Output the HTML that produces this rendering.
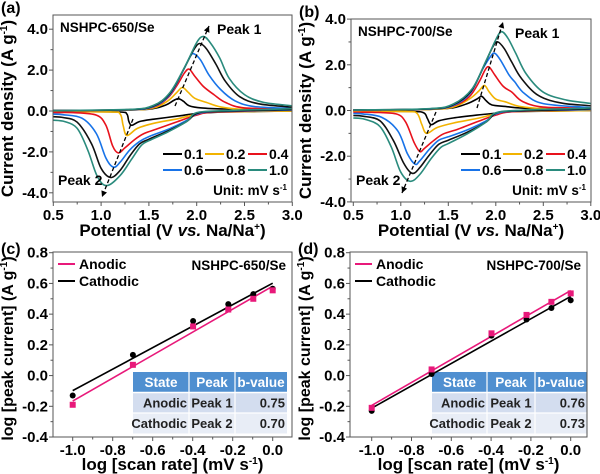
<!DOCTYPE html>
<html><head><meta charset="utf-8">
<style>
html,body{margin:0;padding:0;background:#fff;}
svg{display:block;font-family:"Liberation Sans",Arial,sans-serif;font-weight:bold;}
</style></head>
<body>
<svg id="fig" width="600" height="474" viewBox="0 0 600 474" xmlns="http://www.w3.org/2000/svg"></svg>
<script>
// ---------- CV data, panel (a) NSHPC-650/Se : [V, I] ----------
const a01up=[[0.5,0.02],[1.3,0.05],[1.55,0.12],[1.68,0.3],[1.76,0.52],[1.81,0.6],[1.86,0.48],[1.92,0.26],[2.05,0.15],[2.3,0.1],[3.0,0.05]];
const a01dn=[[3.0,0.0],[2.3,-0.05],[2.0,-0.12],[1.8,-0.25],[1.55,-0.4],[1.4,-0.52],[1.32,-0.7],[1.29,-0.5],[1.27,-0.15],[1.2,-0.05],[0.8,-0.03],[0.5,-0.03]];
const a02up=[[0.5,0.02],[1.3,0.05],[1.55,0.15],[1.7,0.5],[1.79,0.9],[1.85,1.15],[1.91,0.92],[1.98,0.62],[2.1,0.42],[2.25,0.2],[2.5,0.08],[3.0,0.05]];
const a02dn=[[3.0,0.0],[2.2,-0.05],[2.0,-0.15],[1.8,-0.38],[1.55,-0.6],[1.38,-0.85],[1.27,-1.2],[1.23,-0.7],[1.2,-0.15],[1.1,-0.05],[0.5,-0.03]];
const a04up=[[0.5,0.02],[1.3,0.06],[1.55,0.2],[1.7,0.65],[1.8,1.3],[1.87,1.85],[1.92,2.05],[1.98,1.7],[2.07,1.2],[2.18,0.8],[2.3,0.42],[2.5,0.15],[3.0,0.1]];
const a04dn=[[3.0,0.05],[2.2,-0.05],[2.0,-0.2],[1.8,-0.52],[1.6,-0.85],[1.45,-1.1],[1.35,-1.4],[1.25,-1.8],[1.18,-2.05],[1.12,-1.7],[1.05,-0.7],[0.95,-0.2],[0.7,-0.08],[0.5,-0.08]];
const a06up=[[0.5,0.02],[1.3,0.06],[1.55,0.22],[1.72,0.8],[1.85,1.9],[1.93,2.65],[1.97,2.8],[2.04,2.5],[2.13,1.75],[2.25,1.05],[2.4,0.5],[2.6,0.22],[3.0,0.12]];
const a06dn=[[3.0,0.05],[2.2,-0.03],[2.0,-0.15],[1.9,-0.45],[1.7,-0.9],[1.5,-1.25],[1.4,-1.5],[1.3,-1.9],[1.2,-2.5],[1.13,-2.75],[1.05,-2.3],[0.95,-1.1],[0.8,-0.35],[0.6,-0.18],[0.5,-0.15]];
const a08up=[[0.5,0.02],[1.3,0.07],[1.55,0.25],[1.72,0.85],[1.87,2.1],[1.97,3.0],[2.03,3.3],[2.1,3.05],[2.2,2.3],[2.3,1.45],[2.45,0.7],[2.65,0.35],[3.0,0.18]];
const a08dn=[[3.0,0.08],[2.2,-0.02],[2.0,-0.12],[1.9,-0.5],[1.7,-0.98],[1.5,-1.38],[1.4,-1.62],[1.3,-2.2],[1.2,-2.9],[1.1,-3.25],[1.0,-2.8],[0.9,-1.6],[0.75,-0.55],[0.6,-0.32],[0.5,-0.28]];
const a10up=[[0.5,0.02],[1.3,0.08],[1.55,0.28],[1.72,0.9],[1.88,2.2],[2.0,3.35],[2.07,3.65],[2.14,3.35],[2.24,2.6],[2.34,1.6],[2.5,0.8],[2.7,0.42],[3.0,0.25]];
const a10dn=[[3.0,0.12],[2.3,0.02],[2.0,-0.08],[1.9,-0.5],[1.7,-1.02],[1.5,-1.45],[1.42,-1.68],[1.32,-2.35],[1.2,-3.15],[1.06,-3.65],[0.96,-3.2],[0.86,-1.9],[0.75,-0.85],[0.62,-0.52],[0.5,-0.45]];
// ---------- CV data, panel (b) NSHPC-700/Se ----------
const b01up=[[0.5,0.02],[1.3,0.05],[1.55,0.12],[1.7,0.3],[1.8,0.5],[1.85,0.62],[1.9,0.42],[1.96,0.24],[2.1,0.18],[2.3,0.1],[3.0,0.05]];
const b01dn=[[3.0,0.0],[2.2,-0.05],[2.0,-0.12],[1.8,-0.2],[1.55,-0.33],[1.4,-0.45],[1.32,-0.62],[1.28,-0.35],[1.24,-0.1],[1.1,-0.04],[0.5,-0.03]];
const b02up=[[0.5,0.02],[1.3,0.05],[1.55,0.15],[1.72,0.5],[1.82,0.85],[1.88,1.1],[1.93,0.82],[2.0,0.5],[2.1,0.38],[2.25,0.18],[2.5,0.08],[3.0,0.05]];
const b02dn=[[3.0,0.0],[2.2,-0.05],[2.0,-0.15],[1.8,-0.35],[1.55,-0.55],[1.38,-0.75],[1.27,-1.0],[1.22,-0.6],[1.17,-0.12],[1.05,-0.05],[0.5,-0.03]];
const b04up=[[0.5,0.02],[1.3,0.06],[1.55,0.2],[1.72,0.6],[1.83,1.3],[1.89,1.8],[1.93,1.9],[1.99,1.55],[2.08,1.05],[2.17,0.8],[2.28,0.4],[2.5,0.15],[3.0,0.1]];
const b04dn=[[3.0,0.05],[2.2,-0.05],[2.0,-0.2],[1.8,-0.5],[1.6,-0.82],[1.45,-1.02],[1.35,-1.3],[1.25,-1.65],[1.2,-1.8],[1.14,-1.4],[1.05,-0.5],[0.95,-0.15],[0.7,-0.08],[0.5,-0.08]];
const b06up=[[0.5,0.02],[1.3,0.06],[1.55,0.22],[1.73,0.75],[1.86,1.8],[1.95,2.4],[1.99,2.5],[2.05,2.2],[2.14,1.55],[2.2,1.25],[2.3,0.75],[2.5,0.3],[3.0,0.12]];
const b06dn=[[3.0,0.05],[2.2,-0.03],[2.0,-0.15],[1.9,-0.45],[1.7,-0.85],[1.5,-1.15],[1.4,-1.3],[1.3,-1.7],[1.2,-2.2],[1.15,-2.35],[1.07,-1.9],[0.97,-0.9],[0.8,-0.3],[0.6,-0.15],[0.5,-0.13]];
const b08up=[[0.5,0.02],[1.3,0.07],[1.55,0.25],[1.74,0.85],[1.88,2.0],[1.97,2.8],[2.02,3.0],[2.09,2.7],[2.17,2.1],[2.27,1.4],[2.45,0.65],[2.7,0.32],[3.0,0.2]];
const b08dn=[[3.0,0.08],[2.2,-0.02],[2.0,-0.12],[1.9,-0.5],[1.7,-0.95],[1.5,-1.3],[1.4,-1.48],[1.3,-1.95],[1.2,-2.5],[1.12,-2.75],[1.03,-2.3],[0.92,-1.3],[0.78,-0.45],[0.6,-0.25],[0.5,-0.22]];
const b10up=[[0.5,0.02],[1.3,0.08],[1.55,0.28],[1.75,0.95],[1.9,2.2],[2.0,3.1],[2.06,3.45],[2.13,3.15],[2.21,2.5],[2.32,1.6],[2.5,0.8],[2.75,0.45],[3.0,0.3]];
const b10dn=[[3.0,0.12],[2.3,0.02],[2.0,-0.1],[1.9,-0.5],[1.7,-1.02],[1.5,-1.45],[1.42,-1.62],[1.32,-2.1],[1.2,-2.8],[1.1,-3.1],[1.0,-2.7],[0.9,-1.6],[0.78,-0.7],[0.62,-0.38],[0.5,-0.33]];
const rateLabels=['0.1','0.2','0.4','0.6','0.8','1.0'];
const rateColors=['#000000','#f2b300','#e8121c','#1873e8','#111111','#2a8b7d'];
const cvA=[[a01up,a01dn],[a02up,a02dn],[a04up,a04dn],[a06up,a06dn],[a08up,a08dn],[a10up,a10dn]];
const cvB=[[b01up,b01dn],[b02up,b02dn],[b04up,b04dn],[b06up,b06dn],[b08up,b08dn],[b10up,b10dn]];
// ---------- log-log data ----------
const logRate=[-1.0,-0.699,-0.398,-0.222,-0.097,0.0];
const cAnodic=[-0.19,0.07,0.32,0.43,0.50,0.555];
const cCathodic=[-0.13,0.135,0.355,0.465,0.53,0.565];
const dAnodic=[-0.21,0.04,0.275,0.395,0.48,0.535];
const dCathodic=[-0.23,0.01,0.26,0.365,0.44,0.49];
const cvXTicks=[0.5,1.0,1.5,2.0,2.5,3.0];
const cvYTicks=[-4,-2,0,2,4];
const lgXTicks=[-1.0,-0.8,-0.6,-0.4,-0.2,0.0];
const lgYTicks=[-0.4,-0.2,0.0,0.2,0.4,0.6,0.8];
const tableC=[['Anodic','Peak 1','0.75'],['Cathodic','Peak 2','0.70']];
const tableD=[['Anodic','Peak 1','0.76'],['Cathodic','Peak 2','0.73']];

const NS='http://www.w3.org/2000/svg';
const svg=document.getElementById('fig');
function el(tag,attrs,parent,text){const e=document.createElementNS(NS,tag);for(const k in attrs)e.setAttribute(k,attrs[k]);if(text!==undefined)e.textContent=text;(parent||svg).appendChild(e);return e;}
function smooth(pts){let d='M'+pts[0][0].toFixed(1)+','+pts[0][1].toFixed(1);for(let i=0;i<pts.length-1;i++){const p0=pts[Math.max(0,i-1)],p1=pts[i],p2=pts[i+1],p3=pts[Math.min(pts.length-1,i+2)];const c1=[p1[0]+(p2[0]-p0[0])/6,p1[1]+(p2[1]-p0[1])/6],c2=[p2[0]-(p3[0]-p1[0])/6,p2[1]-(p3[1]-p1[1])/6];d+=' C'+c1[0].toFixed(1)+','+c1[1].toFixed(1)+' '+c2[0].toFixed(1)+','+c2[1].toFixed(1)+' '+p2[0].toFixed(1)+','+p2[1].toFixed(1);}return d;}

function axes(g,box,xs,ys,xt,yt,xfmt,yfmt,xMinor,yMinor){
  el('rect',{x:box.l,y:box.t,width:box.r-box.l,height:box.b-box.t,fill:'none',stroke:'#555','stroke-width':1},g);
  xt.forEach(v=>{const x=xs(v);el('line',{x1:x,y1:box.b,x2:x,y2:box.b+4,stroke:'#555'},g);
    const t=el('text',{x:x,y:box.b+18,'text-anchor':'middle','font-size':15},g,xfmt(v));});
  xMinor.forEach(v=>{const x=xs(v);el('line',{x1:x,y1:box.b,x2:x,y2:box.b+2.5,stroke:'#555'},g);});
  yt.forEach(v=>{const y=ys(v);el('line',{x1:box.l-4,y1:y,x2:box.l,y2:y,stroke:'#555'},g);
    const t=el('text',{x:box.l-5,y:y+5,'text-anchor':'end','font-size':15},g,yfmt(v));});
  yMinor.forEach(v=>{const y=ys(v);el('line',{x1:box.l-2.5,y1:y,x2:box.l,y2:y,stroke:'#555'},g);});
}

function cvPanel(name,label,sample,box,xs,ys,data,arrows,clipId){
  const g=el('g',{});
  const lbl=el('text',{x:box.l-52,y:box.t-2,'font-size':16},g,label);
  const cp=el('clipPath',{id:clipId},g);el('rect',{x:box.l,y:box.t,width:box.r-box.l,height:box.b-box.t},cp);
  const cg=el('g',{'clip-path':'url(#'+clipId+')'},g);
  data.forEach((c,i)=>{const pts=c[0].concat(c[1]).map(p=>[xs(p[0]),ys(p[1])]);
    const p=el('path',{d:smooth(pts),fill:'none',stroke:rateColors[i],'stroke-width':1.6},cg);
    });
  arrows.forEach(a=>{el('line',{x1:a[0],y1:a[1],x2:a[2],y2:a[3],stroke:'#000','stroke-width':1.3,'stroke-dasharray':'4,2.5'},g);
    const ang=Math.atan2(a[3]-a[1],a[2]-a[0]),L=6,W=3;const bx=a[2]-L*Math.cos(ang),by=a[3]-L*Math.sin(ang);
    el('polygon',{points:a[2]+','+a[3]+' '+(bx+W*Math.sin(ang))+','+(by-W*Math.cos(ang))+' '+(bx-W*Math.sin(ang))+','+(by+W*Math.cos(ang)),fill:'#000'},g);});
  axes(g,box,xs,ys,cvXTicks,cvYTicks,v=>v.toFixed(1),v=>v.toFixed(1),[0.75,1.25,1.75,2.25,2.75],[-3,-1,1,3]);
  const s=el('text',{x:box.l+7,y:box.t+17,'font-size':13.5},g,sample);
  const p1=el('text',{x:box.l+164,y:box.t+19,'font-size':14},g,'Peak 1');
  const p2=el('text',{x:box.l+5,y:box.b-17,'font-size':14},g,'Peak 2');
  const lg=el('g',{},g);
  const colX=[110,152,195],rowY=[box.b-48,box.b-32];
  rateLabels.forEach((r,i)=>{const x=box.l+colX[i%3],y=rowY[Math.floor(i/3)];
    const e=el('g',{},lg);
    el('line',{x1:x,y1:y,x2:x+19,y2:y,stroke:rateColors[i],'stroke-width':2},e);el('text',{x:x+21,y:y+5,'font-size':14},e,r);});
  const u=el('text',{x:box.r-5,y:box.b-7,'font-size':13.5,'text-anchor':'end'},g);
  u.appendChild(document.createTextNode('Unit: mV s'));el('tspan',{'font-size':8,dy:-5},u,'-1');
  const yt=el('text',{transform:'translate('+(box.l-40)+','+((box.t+box.b)/2)+') rotate(-90)','text-anchor':'middle','font-size':17},g);
  
  yt.appendChild(document.createTextNode('Current density (A g'));el('tspan',{'font-size':10,dy:-6},yt,'-1');el('tspan',{dy:6},yt,')');
  const xt=el('text',{x:(box.l+box.r)/2,y:box.b+34,'text-anchor':'middle','font-size':17},g);
  
  xt.appendChild(document.createTextNode('Potential (V '));el('tspan',{'font-style':'italic'},xt,'vs.');xt.appendChild(document.createTextNode(' Na/Na'));el('tspan',{'font-size':10,dy:-6},xt,'+');el('tspan',{dy:6},xt,')');
}

function fit(x,y){const n=x.length;const mx=x.reduce((a,b)=>a+b)/n,my=y.reduce((a,b)=>a+b)/n;let sxy=0,sxx=0;for(let i=0;i<n;i++){sxy+=(x[i]-mx)*(y[i]-my);sxx+=(x[i]-mx)**2;}const m=sxy/sxx;return [m,my-m*mx];}

function logPanel(name,label,sample,box,xs,ys,an,ca,table,tb){
  const g=el('g',{});
  const lbl=el('text',{x:box.l-52,y:box.t+2,'font-size':16},g,label);
  const tg=el('g',{},g);
  const hy=372,rh=20.5;
  el('rect',{x:tb[0],y:hy,width:tb[3]-tb[0],height:rh,fill:'#4f8fd0'},tg);
  el('rect',{x:tb[0],y:hy+rh,width:tb[3]-tb[0],height:rh,fill:'#d3ddef'},tg);
  el('rect',{x:tb[0],y:hy+2*rh,width:tb[3]-tb[0],height:rh,fill:'#e8edf6'},tg);
  [1,2].forEach(k=>el('line',{x1:tb[k],y1:hy,x2:tb[k],y2:hy+3*rh,stroke:'#fff','stroke-width':1.2},tg));
  el('line',{x1:tb[0],y1:hy+rh,x2:tb[3],y2:hy+rh,stroke:'#fff','stroke-width':1.5},tg);
  el('line',{x1:tb[0],y1:hy+2*rh,x2:tb[3],y2:hy+2*rh,stroke:'#fff','stroke-width':1.2},tg);
  ['State','Peak','b-value'].forEach((h,k)=>el('text',{x:(tb[k]+tb[k+1])/2,y:hy+15,'text-anchor':'middle','font-size':13.5,fill:'#fff'},tg,h));
  table.forEach((r,j)=>{const y=hy+rh*(j+1)+15;
    el('text',{x:tb[1]-2,y:y,'text-anchor':'end','font-size':13,fill:'#222'},tg,r[0]);
    el('text',{x:(tb[1]+tb[2])/2,y:y,'text-anchor':'middle','font-size':13,fill:'#222'},tg,r[1]);
    el('text',{x:tb[3]-2,y:y,'text-anchor':'end','font-size':13,fill:'#222'},tg,r[2]);});
  [[ca,'#000','cathodic'],[an,'#e8197a','anodic']].forEach(s=>{const f=fit(logRate,s[0]);
    const l=el('line',{x1:xs(-1),y1:ys(f[1]-f[0]),x2:xs(0),y2:ys(f[1]),stroke:s[1],'stroke-width':1.6},g);});
  logRate.forEach((x,i)=>{const c=el('circle',{cx:xs(x),cy:ys(ca[i]),r:3,fill:'#000'},g);
    const r=el('rect',{x:xs(x)-3,y:ys(an[i])-3,width:6,height:6,fill:'#e8197a'},g);});
  axes(g,box,xs,ys,lgXTicks,lgYTicks,v=>v.toFixed(1),v=>v.toFixed(1),[-0.9,-0.7,-0.5,-0.3,-0.1],[-0.3,-0.1,0.1,0.3,0.5,0.7]);
  const lg=el('g',{},g);
  [['Anodic','#e8197a',box.t+12],['Cathodic','#000',box.t+29]].forEach(e=>{const eg=el('g',{},lg);
    el('line',{x1:box.l+5,y1:e[2],x2:box.l+22,y2:e[2],stroke:e[1],'stroke-width':2},eg);el('text',{x:box.l+26,y:e[2]+5,'font-size':14},eg,e[0]);});
  const s=el('text',{x:box.r-6,y:box.t+18,'text-anchor':'end','font-size':13.5},g,sample);
  const yt=el('text',{transform:'translate('+(box.l-40)+','+((box.t+box.b)/2+4)+') rotate(-90)','text-anchor':'middle','font-size':16},g);
  
  yt.appendChild(document.createTextNode('log [peak current] (A g'));el('tspan',{'font-size':10,dy:-6},yt,'-1');el('tspan',{dy:6},yt,')');
  const xt=el('text',{x:(box.l+box.r)/2,y:box.b+33,'text-anchor':'middle','font-size':17},g);
  
  xt.appendChild(document.createTextNode('log [scan rate] (mV s'));el('tspan',{'font-size':10,dy:-6},xt,'-1');el('tspan',{dy:6},xt,')');
}

const boxA={l:53,r:292,t:15,b:202};
cvPanel('panel-a-cv-650','(a)','NSHPC-650/Se',boxA,v=>53.3+(v-0.5)*95.6,i=>111-i*20.45,cvA,[[175,106,209,26],[133,119,102,197]],'clipA');
const boxB={l:351,r:591,t:19,b:202};
cvPanel('panel-b-cv-700','(b)','NSHPC-700/Se',boxB,v=>353.3+(v-0.5)*95,i=>110.5-i*22.85,cvB,[[477,108,503,22],[436,112,402,193]],'clipB');
const boxC={l:53,r:292,t:252,b:437};
logPanel('panel-c-log-650','(c)','NSHPC-650/Se',boxC,v=>272.7+v*200,v=>252.7+(0.8-v)*153.6,cAnodic,cCathodic,tableC,[133,189,235,287]);
const boxD={l:350,r:587,t:252,b:437};
logPanel('panel-d-log-700','(d)','NSHPC-700/Se',boxD,v=>570.7+v*199,v=>252.7+(0.8-v)*153.6,dAnodic,dCathodic,tableD,[432,487,535,587]);
</script>
</body></html>
